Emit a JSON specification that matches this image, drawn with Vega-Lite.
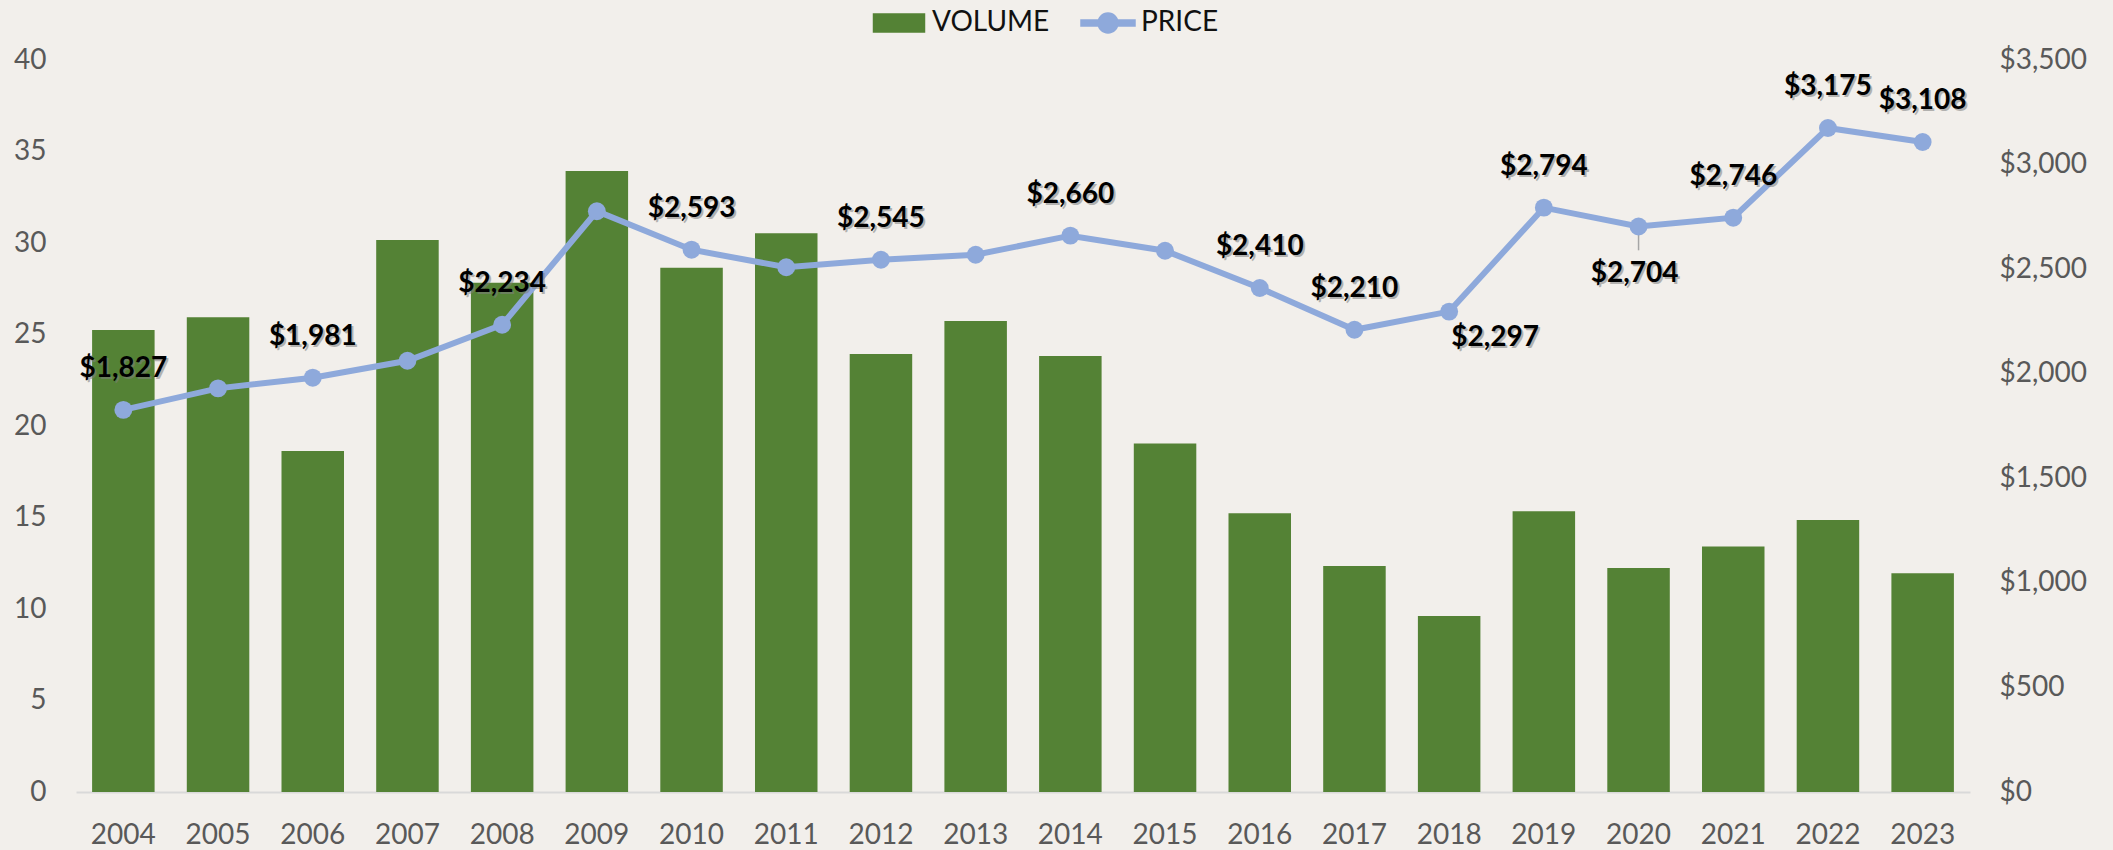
{
  "$schema": "https://vega.github.io/schema/vega-lite/v6.json",
  "width": 1894,
  "height": 732,
  "autosize": {"type": "none"},
  "padding": {"left": 76, "top": 60, "right": 143, "bottom": 58},
  "background": "#F2EFEB",
  "config": {
    "view": {"stroke": null},
    "font": "Lato",
    "axis": {"labelFont": "Lato", "labelFontSize": 28, "labelColor": "#595959", "ticks": false, "tickSize": 0, "grid": false, "title": null}
  },
  "data": {
    "values": [
      {"year": 2004, "volume": 25.25, "price": 1827},
      {"year": 2005, "volume": 25.94, "price": 1930},
      {"year": 2006, "volume": 18.63, "price": 1981},
      {"year": 2007, "volume": 30.16, "price": 2062},
      {"year": 2008, "volume": 27.83, "price": 2234},
      {"year": 2009, "volume": 33.93, "price": 2777},
      {"year": 2010, "volume": 28.65, "price": 2593},
      {"year": 2011, "volume": 30.53, "price": 2509},
      {"year": 2012, "volume": 23.93, "price": 2545},
      {"year": 2013, "volume": 25.74, "price": 2569},
      {"year": 2014, "volume": 23.83, "price": 2660},
      {"year": 2015, "volume": 19.05, "price": 2588},
      {"year": 2016, "volume": 15.23, "price": 2410},
      {"year": 2017, "volume": 12.35, "price": 2210},
      {"year": 2018, "volume": 9.62, "price": 2297},
      {"year": 2019, "volume": 15.34, "price": 2794},
      {"year": 2020, "volume": 12.24, "price": 2704},
      {"year": 2021, "volume": 13.42, "price": 2746},
      {"year": 2022, "volume": 14.86, "price": 3175},
      {"year": 2023, "volume": 11.95, "price": 3108}
    ]
  },
  "encoding": {
    "x": {
      "field": "year", "type": "ordinal",
      "scale": {"paddingInner": 0.34, "paddingOuter": 0.17},
      "axis": {"labelAngle": 0, "labelPadding": 29, "labelBaseline": "top", "domainColor": "#D9D9D9", "domainWidth": 2}
    }
  },
  "layer": [
    {
      "mark": {"type": "bar"},
      "encoding": {
        "y": {
          "field": "volume", "type": "quantitative",
          "scale": {"domain": [0, 40], "nice": false},
          "axis": {"values": [0, 5, 10, 15, 20, 25, 30, 35, 40], "labelPadding": 30, "domain": false}
        },
        "color": {
          "datum": "VOLUME", "type": "nominal",
          "scale": {"domain": ["VOLUME", "PRICE"], "range": ["#548235", "#8EA9DB"]},
          "legend": {
            "orient": "none", "legendX": 795, "legendY": -65, "direction": "horizontal", "title": null,
            "labelFont": "Lato", "labelFontSize": 28, "labelColor": "#111111",
            "symbolSize": 2916, "labelOffset": 5, "columnPadding": 28, "padding": 0,
            "encode": {
              "symbols": {
                "update": {
                  "shape": {"signal": "datum.value === 'PRICE' ? 'M-1,-0.111H1V0.111H-1Z M0.37,0A0.37,0.37 0 1,1 -0.37,0A0.37,0.37 0 1,1 0.37,0Z' : 'M-0.944,-0.333H0.944V0.333H-0.944Z'"},
                  "fill": {"signal": "datum.value === 'PRICE' ? '#8EA9DB' : '#548235'"},
                  "stroke": {"value": "transparent"},
                  "opacity": {"value": 1}
                }
              }
            }
          }
        }
      }
    },
    {
      "encoding": {
        "y": {
          "field": "price", "type": "quantitative",
          "scale": {"domain": [0, 3500], "nice": false},
          "axis": {"orient": "right", "values": [0, 500, 1000, 1500, 2000, 2500, 3000, 3500], "format": "$,.0f", "labelPadding": 29, "domain": false}
        }
      },
      "layer": [
        {
          "transform": [{"filter": "datum.year == 2020"}],
          "mark": {"type": "rule", "color": "#A6A6A6", "strokeWidth": 1.5},
          "encoding": {"y2": {"datum": 2590}}
        },
        {
          "mark": {"type": "line", "strokeWidth": 6, "point": {"filled": true, "size": 320, "opacity": 1}},
          "encoding": {"color": {"datum": "PRICE", "type": "nominal"}}
        },
        {
          "transform": [{"filter": {"field": "year", "oneOf": [2004, 2006, 2008, 2010, 2012, 2014, 2016, 2017, 2019, 2021, 2022, 2023]}}],
          "mark": {"type": "text", "font": "Lato", "fontWeight": "bold", "fontSize": 28, "color": "#7F7F7F", "opacity": 0.55, "baseline": "middle", "dx": 2, "dy": -39},
          "encoding": {"text": {"field": "price", "type": "quantitative", "format": "$,.0f"}}
        },
        {
          "transform": [{"filter": {"field": "year", "oneOf": [2004, 2006, 2008, 2010, 2012, 2014, 2016, 2017, 2019, 2021, 2022, 2023]}}],
          "mark": {"type": "text", "font": "Lato", "fontWeight": "bold", "fontSize": 28, "color": "#000000", "baseline": "middle", "dy": -41},
          "encoding": {"text": {"field": "price", "type": "quantitative", "format": "$,.0f"}}
        },
        {
          "transform": [{"filter": "datum.year == 2018"}],
          "mark": {"type": "text", "font": "Lato", "fontWeight": "bold", "fontSize": 28, "color": "#7F7F7F", "opacity": 0.55, "baseline": "middle", "dx": 48, "dy": 28},
          "encoding": {"text": {"field": "price", "type": "quantitative", "format": "$,.0f"}}
        },
        {
          "transform": [{"filter": "datum.year == 2018"}],
          "mark": {"type": "text", "font": "Lato", "fontWeight": "bold", "fontSize": 28, "color": "#000000", "baseline": "middle", "dx": 46, "dy": 26},
          "encoding": {"text": {"field": "price", "type": "quantitative", "format": "$,.0f"}}
        },
        {
          "transform": [{"filter": "datum.year == 2020"}],
          "mark": {"type": "text", "font": "Lato", "fontWeight": "bold", "fontSize": 28, "color": "#7F7F7F", "opacity": 0.55, "baseline": "middle", "dx": -2, "dy": 50},
          "encoding": {"text": {"field": "price", "type": "quantitative", "format": "$,.0f"}}
        },
        {
          "transform": [{"filter": "datum.year == 2020"}],
          "mark": {"type": "text", "font": "Lato", "fontWeight": "bold", "fontSize": 28, "color": "#000000", "baseline": "middle", "dx": -4, "dy": 48},
          "encoding": {"text": {"field": "price", "type": "quantitative", "format": "$,.0f"}}
        }
      ]
    }
  ],
  "resolve": {"scale": {"y": "independent"}}
}
